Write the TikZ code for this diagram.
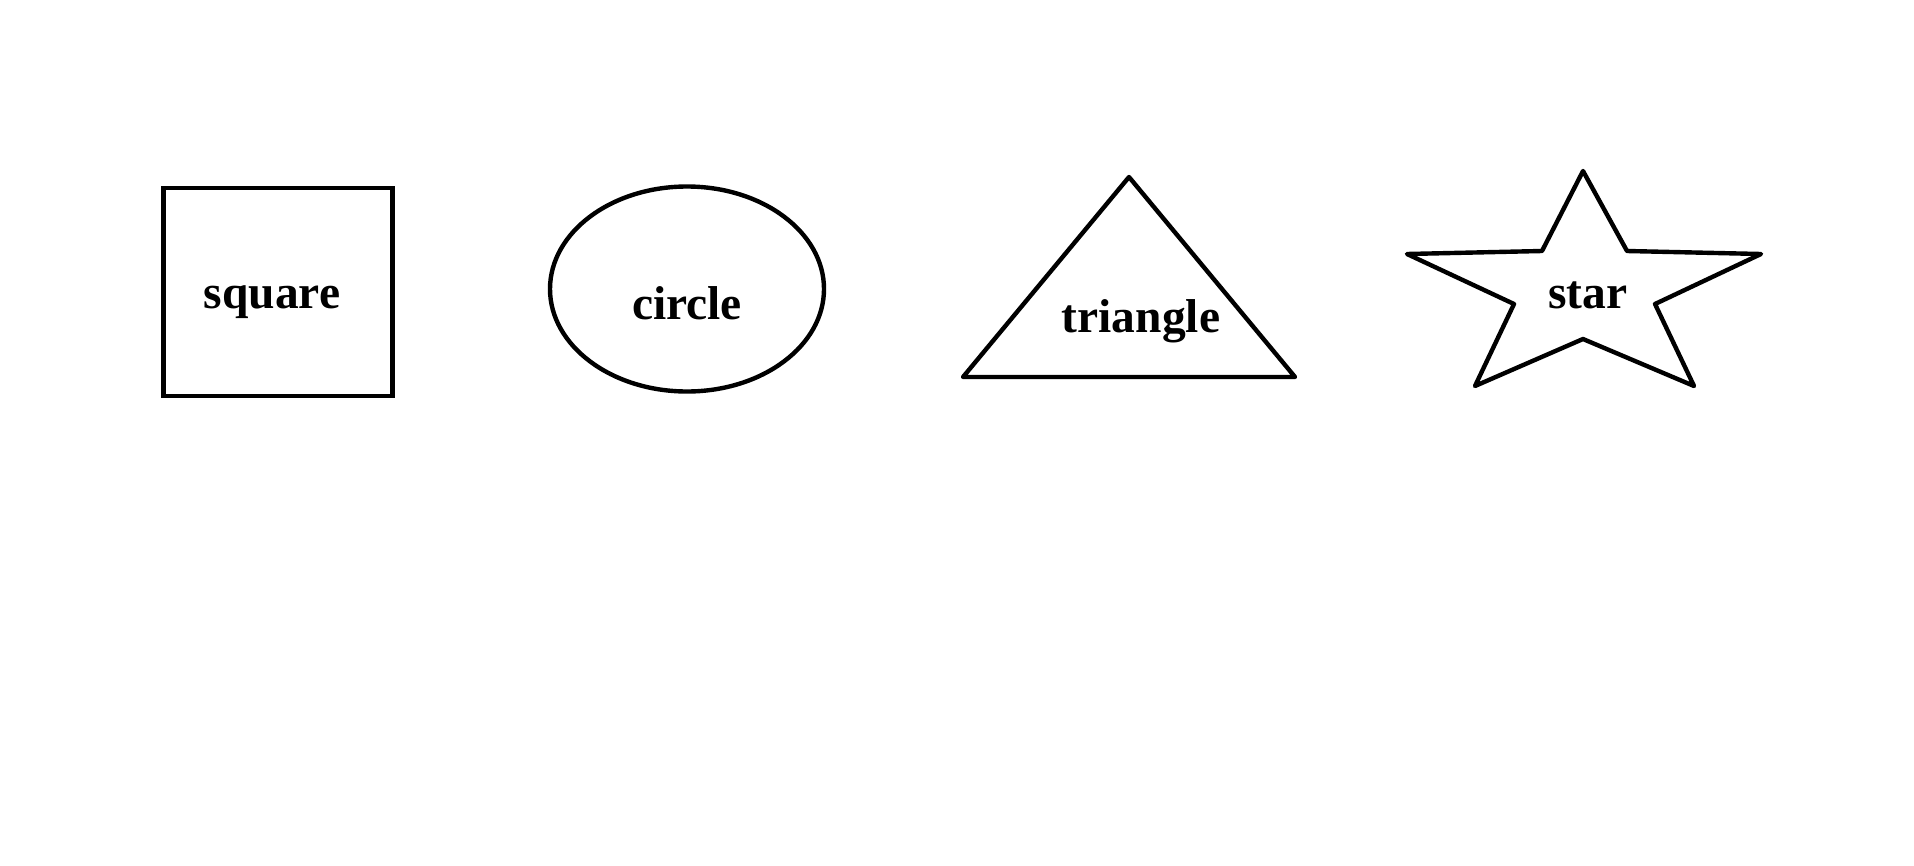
\documentclass[tikz,border=0pt]{standalone}
\usepackage{fontspec}
\setmainfont{Liberation Serif}
\usetikzlibrary{shapes.geometric}
\begin{document}
\begin{tikzpicture}[x=1pt,y=-1pt,
  shapeline/.style={draw=black,line width=4.4pt,line join=round},
  lbl/.style={font=\fontsize{47.5}{57}\selectfont\bfseries,inner sep=0pt,anchor=base}]
\useasboundingbox (0,0) rectangle (1914,865);
% square
\node[shapeline,line join=miter,rectangle,minimum width=229pt,minimum height=208pt,inner sep=0pt] (sq) at (278,292) {};
\node[lbl] (sqt) at (272,308) {square};
% circle (ellipse)
\node[shapeline,ellipse,minimum width=274pt,minimum height=205pt,inner sep=0pt] (ci) at (687,289) {};
\node[lbl] (cit) at (687,319) {circle};
% triangle
\coordinate (ta) at (1129,177);
\coordinate (tl) at (963,377);
\coordinate (tr) at (1295,377);
\draw[shapeline] (ta) -- (tr) -- (tl) -- cycle;
\node[lbl] (trt) at (1141,332) {triangle};
% star
\coordinate (s1) at (1583,171);
\coordinate (s2) at (1627,251);
\coordinate (s3) at (1761,254);
\coordinate (s4) at (1655,304);
\coordinate (s5) at (1694,386);
\coordinate (s6) at (1583,339);
\coordinate (s7) at (1475,386);
\coordinate (s8) at (1514,304);
\coordinate (s9) at (1407,254);
\coordinate (s10) at (1542,251);
\draw[shapeline] (s1) -- (s2) -- (s3) -- (s4) -- (s5) -- (s6) -- (s7) -- (s8) -- (s9) -- (s10) -- cycle;
\node[lbl] (stt) at (1588,308) {star};
\end{tikzpicture}
\end{document}
